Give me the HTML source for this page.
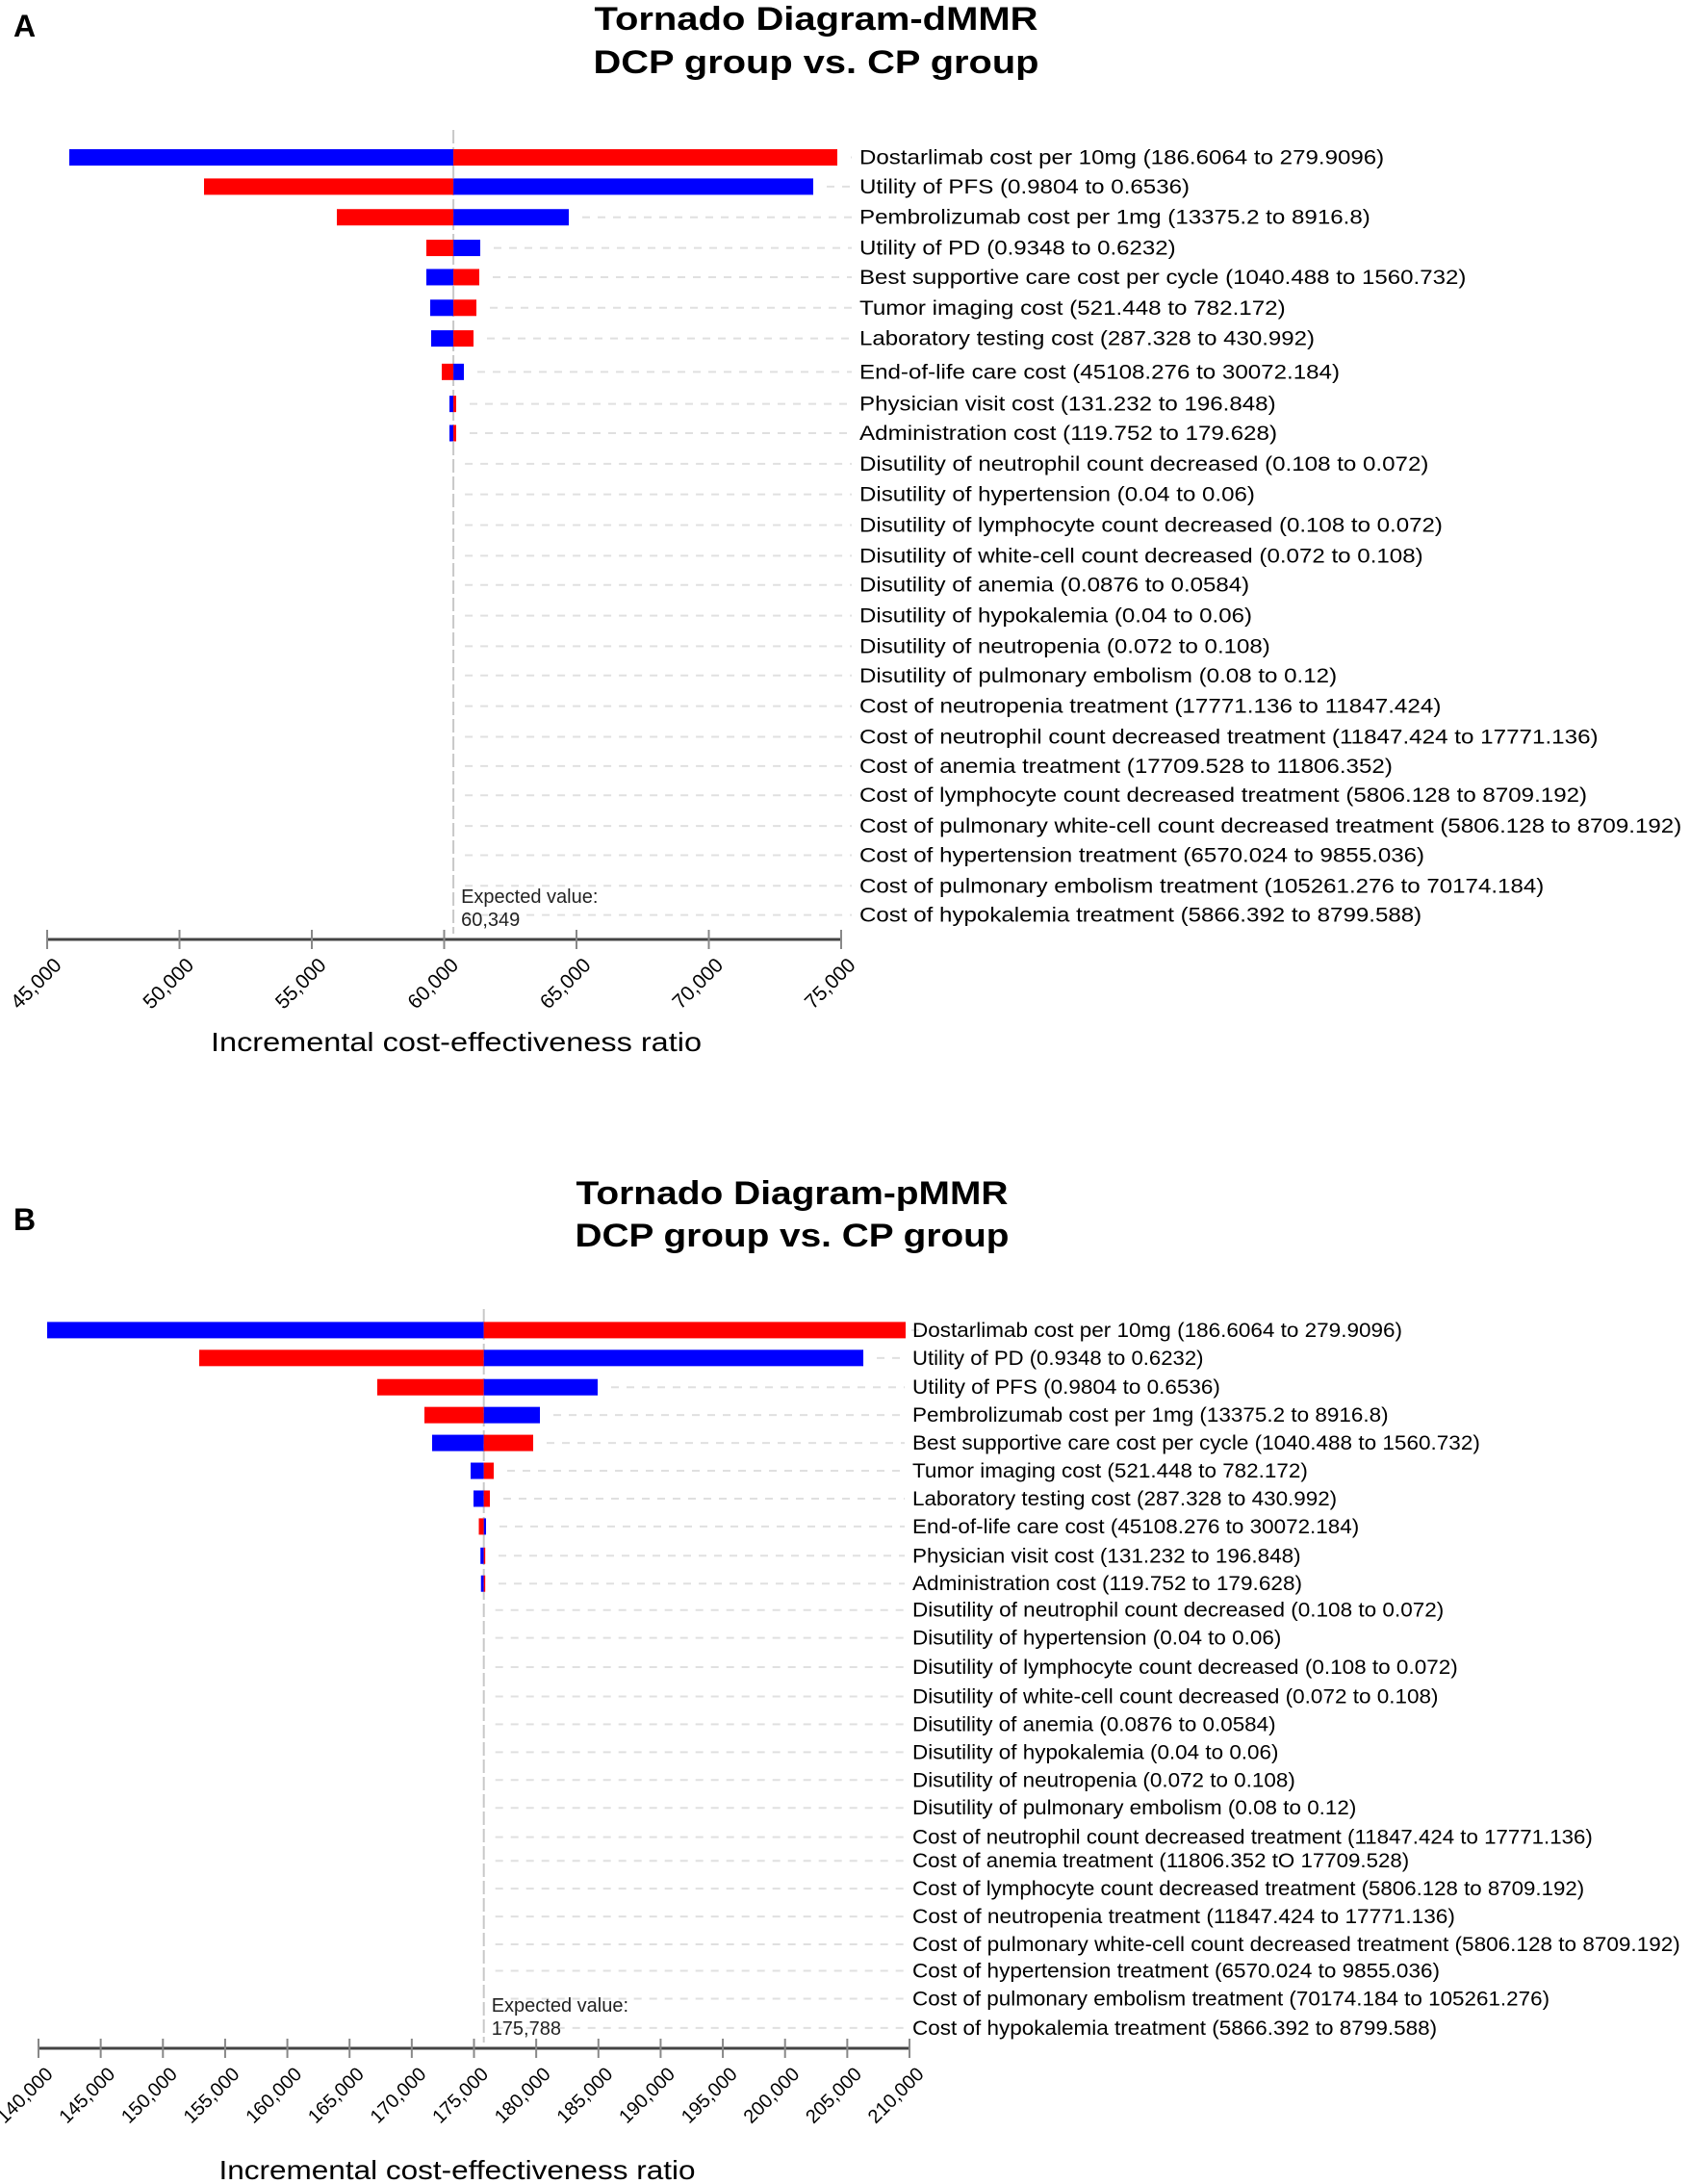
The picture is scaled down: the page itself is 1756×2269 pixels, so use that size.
<!DOCTYPE html>
<html><head><meta charset="utf-8"><style>
html,body{margin:0;padding:0;background:#fff}
svg{display:block;font-family:"Liberation Sans",Arial,sans-serif}
</style></head><body>
<svg id="chart" width="1756" height="2269" viewBox="0 0 1756 2269" xmlns="http://www.w3.org/2000/svg">
<text x="14" y="38" font-size="32" font-weight="bold">A</text>
<text x="848" y="31" font-size="34" font-weight="bold" text-anchor="middle" textLength="461" lengthAdjust="spacingAndGlyphs">Tornado Diagram-dMMR</text>
<text x="848" y="76" font-size="34" font-weight="bold" text-anchor="middle" textLength="463" lengthAdjust="spacingAndGlyphs">DCP group vs. CP group</text>
<text x="14" y="1278" font-size="32" font-weight="bold">B</text>
<text x="823" y="1251" font-size="34" font-weight="bold" text-anchor="middle" textLength="449" lengthAdjust="spacingAndGlyphs">Tornado Diagram-pMMR</text>
<text x="823" y="1295" font-size="34" font-weight="bold" text-anchor="middle" textLength="451" lengthAdjust="spacingAndGlyphs">DCP group vs. CP group</text>
</svg>
<script>
// ---- Chart A data ----
const paramsA = ["Dostarlimab cost per 10mg (186.6064 to 279.9096)","Utility of PFS (0.9804 to 0.6536)","Pembrolizumab cost per 1mg (13375.2 to 8916.8)","Utility of PD (0.9348 to 0.6232)","Best supportive care cost per cycle (1040.488 to 1560.732)","Tumor imaging cost (521.448 to 782.172)","Laboratory testing cost (287.328 to 430.992)","End-of-life care cost (45108.276 to 30072.184)","Physician visit cost (131.232 to 196.848)","Administration cost (119.752 to 179.628)","Disutility of neutrophil count decreased (0.108 to 0.072)","Disutility of hypertension (0.04 to 0.06)","Disutility of lymphocyte count decreased (0.108 to 0.072)","Disutility of white-cell count decreased (0.072 to 0.108)","Disutility of anemia (0.0876 to 0.0584)","Disutility of hypokalemia (0.04 to 0.06)","Disutility of neutropenia (0.072 to 0.108)","Disutility of pulmonary embolism (0.08 to 0.12)","Cost of neutropenia treatment (17771.136 to 11847.424)","Cost of neutrophil count decreased treatment (11847.424 to 17771.136)","Cost of anemia treatment (17709.528 to 11806.352)","Cost of lymphocyte count decreased treatment (5806.128 to 8709.192)","Cost of pulmonary white-cell count decreased treatment (5806.128 to 8709.192)","Cost of hypertension treatment (6570.024 to 9855.036)","Cost of pulmonary embolism treatment (105261.276 to 70174.184)","Cost of hypokalemia treatment (5866.392 to 8799.588)"];
const lowA  = [45836,50927,55945,59327,59327,59473,59509,59909,60200,60200];
const highA = [74855,73945,64709,61364,61327,61218,61109,60745,60454,60454];
const leftRedA = [false,true,true,true,false,false,false,true,false,false];
const ticksA = [45000,50000,55000,60000,65000,70000,75000];
const baseA = 60349;
const labelEndsA = [996,856,986,846,1055,925,946,964,918,919,1028,903,1038,1024,899,901,914,962,1037,1150,1002,1142,1210,1025,1111,1023];
const rowYA = [113,134,156,178,199,221,243,267,290,311,333,355,377,399,420,442,464,485,507,529,550,571,593,614,636,657];

// ---- Chart B data ----
const paramsB = ["Dostarlimab cost per 10mg (186.6064 to 279.9096)","Utility of PD (0.9348 to 0.6232)","Utility of PFS (0.9804 to 0.6536)","Pembrolizumab cost per 1mg (13375.2 to 8916.8)","Best supportive care cost per cycle (1040.488 to 1560.732)","Tumor imaging cost (521.448 to 782.172)","Laboratory testing cost (287.328 to 430.992)","End-of-life care cost (45108.276 to 30072.184)","Physician visit cost (131.232 to 196.848)","Administration cost (119.752 to 179.628)","Disutility of neutrophil count decreased (0.108 to 0.072)","Disutility of hypertension (0.04 to 0.06)","Disutility of lymphocyte count decreased (0.108 to 0.072)","Disutility of white-cell count decreased (0.072 to 0.108)","Disutility of anemia (0.0876 to 0.0584)","Disutility of hypokalemia (0.04 to 0.06)","Disutility of neutropenia (0.072 to 0.108)","Disutility of pulmonary embolism (0.08 to 0.12)","Cost of neutrophil count decreased treatment (11847.424 to 17771.136)","Cost of anemia treatment (11806.352 tO 17709.528)","Cost of lymphocyte count decreased treatment (5806.128 to 8709.192)","Cost of neutropenia treatment (11847.424 to 17771.136)","Cost of pulmonary white-cell count decreased treatment (5806.128 to 8709.192)","Cost of hypertension treatment (6570.024 to 9855.036)","Cost of pulmonary embolism treatment (70174.184 to 105261.276)","Cost of hypokalemia treatment (5866.392 to 8799.588)"];
const lowB  = [140696,152917,167227,171017,171635,174730,174961,175388,175520,175560];
const highB = [209690,206290,184940,180300,179757,176586,176276,175968,175890,175890];
const leftRedB = [false,true,true,true,false,false,false,true,false,false];
const ticksB = [140000,145000,150000,155000,160000,165000,170000,175000,180000,185000,190000,195000,200000,205000,210000];
const baseB = 175788;
const labelEndsB = [1009,866,878,999,1065,941,962,978,936,937,1039,922,1049,1035,918,920,932,976,1146,1014,1140,1047,1209,1036,1115,1034];
const rowYB = [955,975,996,1016,1036,1056,1076,1096,1117,1137,1156,1176,1197,1218,1238,1258,1278,1298,1319,1336,1356,1376,1396,1415,1435,1456];

const NS = "http://www.w3.org/2000/svg";
const svg = document.getElementById("chart");
const S = 1.444;
function mk(tag, attrs, parent){const e=document.createElementNS(NS,tag);for(const k in attrs)e.setAttribute(k,attrs[k]);(parent||svg).appendChild(e);return e;}

function draw(cfg){
  const g = mk("g",{});
  
  
  const x = v => cfg.px0 + (v - cfg.v0) / (cfg.v1 - cfg.v0) * (cfg.px1 - cfg.px0);
  const bx = x(cfg.base);
  const labelX = cfg.labelX;
  cfg.params.forEach((p,i)=>{
    const y = cfg.rowY[i]*1.447;
    let start = bx + 12;
    if (i < cfg.high.length) start = Math.max(x(cfg.high[i]), bx) + 14;
    const ln = mk("line",{x1:start,x2:labelX-8,y1:y,y2:y,stroke:"#e0e0e0","stroke-width":2,"stroke-dasharray":"8,8"},g);
    
    
  });
  const ev = mk("line",{x1:bx,x2:bx,y1:cfg.lineTop,y2:cfg.axisY-6,stroke:"#c8c8c8","stroke-width":2,"stroke-dasharray":"14,4"},g);
  
  
  for(let i=0;i<cfg.low.length;i++){
    const y = cfg.rowY[i]*1.447;
    const h = 17;
    const xl = x(cfg.low[i]), xh = x(cfg.high[i]);
    const lc = cfg.leftRed[i] ? "#ff0000" : "#0000ff";
    const rc = cfg.leftRed[i] ? "#0000ff" : "#ff0000";
    const r1 = mk("rect",{x:xl,y:y-h/2,width:Math.max(bx-xl,1.5),height:h,fill:lc},g);
    
    
    const r2 = mk("rect",{x:bx,y:y-h/2,width:Math.max(xh-bx,1.5),height:h,fill:rc},g);
    
    
  }
  cfg.params.forEach((p,i)=>{
    const y = cfg.rowY[i]*1.447;
    const t = mk("text",{x:labelX,y:y+7,"font-size":21,fill:"#000",textLength:(cfg.ends[i]*S-labelX),lengthAdjust:"spacingAndGlyphs"},g);
    t.textContent = p;
    
    
  });
  const e1 = mk("text",{x:bx+8,y:cfg.axisY-38,"font-size":20,fill:"#222"},g);
  e1.textContent = "Expected value:";
  
  
  const e2 = mk("text",{x:bx+8,y:cfg.axisY-14,"font-size":20,fill:"#222"},g);
  e2.textContent = cfg.base.toLocaleString("en-US");
  
  
  const ax = mk("line",{x1:cfg.px0,x2:cfg.px1,y1:cfg.axisY,y2:cfg.axisY,stroke:"#444","stroke-width":3},g);
  
  
  cfg.ticks.forEach(v=>{
    const tx = x(v);
    const tk = mk("line",{x1:tx,x2:tx,y1:cfg.axisY-10,y2:cfg.axisY+10,stroke:"#888","stroke-width":2},g);
    
    
    const tl = mk("text",{x:tx+16,y:cfg.axisY+28,"font-size":cfg.tickFont,"text-anchor":"end",transform:`rotate(-45 ${tx+16} ${cfg.axisY+28})`},g);
    tl.textContent = v.toLocaleString("en-US");
    
    
  });
  const at = mk("text",{x:cfg.titleX,y:cfg.titleY,"font-size":28,"text-anchor":"middle",textLength:cfg.titleW,lengthAdjust:"spacingAndGlyphs"},g);
  at.textContent = "Incremental cost-effectiveness ratio";
  
  
}

draw({name:"tornado-chart-a",params:paramsA,low:lowA,high:highA,leftRed:leftRedA,ticks:ticksA,base:baseA,ends:labelEndsA,rowY:rowYA,
  v0:45000,v1:75000,px0:49,px1:874,axisY:976,lineTop:135,labelX:893,titleX:474,titleY:1092,titleW:510,tickFont:21});
draw({name:"tornado-chart-b",params:paramsB,low:lowB,high:highB,leftRed:leftRedB,ticks:ticksB,base:baseB,ends:labelEndsB,rowY:rowYB,
  v0:140000,v1:210000,px0:40,px1:945,axisY:2128,lineTop:1360,labelX:948,titleX:475,titleY:2264,titleW:495,tickFont:20});
</script>
</body></html>
